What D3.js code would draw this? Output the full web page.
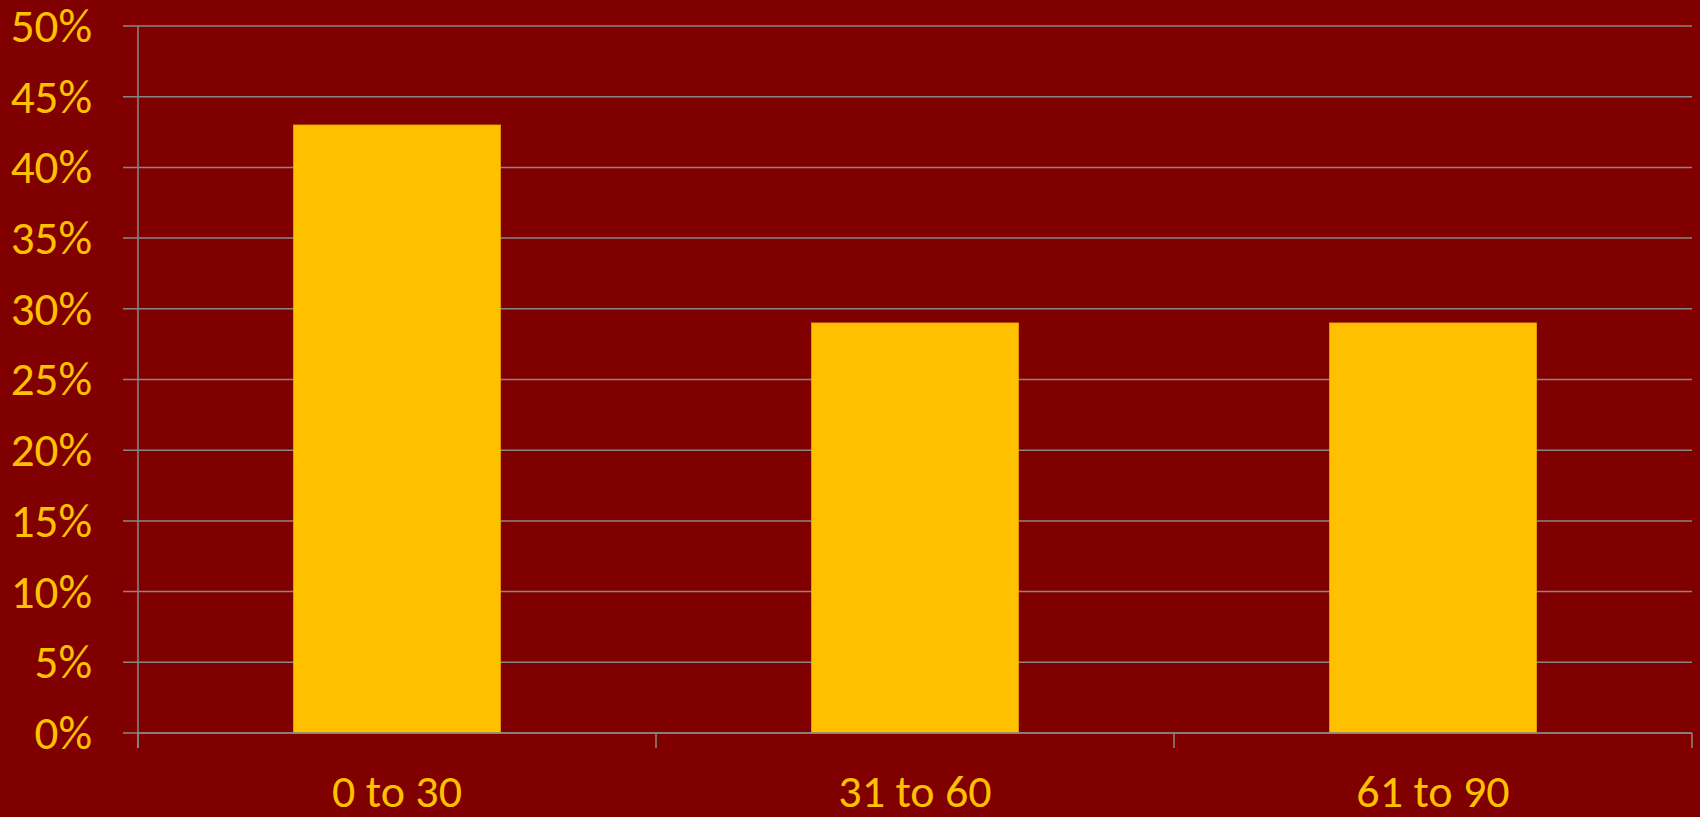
<!DOCTYPE html>
<html>
<head>
<meta charset="utf-8">
<script src="https://cdn.jsdelivr.net/npm/d3@7"></script>
<style>
  html, body { margin: 0; padding: 0; background: #800000; }
  svg { display: block; }
  text { font-family: Carlito, Lato, "Open Sans", sans-serif; fill: #FFC000; }
</style>
</head>
<body>
<svg id="chart" width="1700" height="817"></svg>
<script>
// Share of responses by age group
const categories = ["0 to 30", "31 to 60", "61 to 90"];
const values = [0.43, 0.29, 0.29];
const yTicks = [0, 0.05, 0.10, 0.15, 0.20, 0.25, 0.30, 0.35, 0.40, 0.45, 0.50];

const W = 1700, H = 817;
const margin = { left: 138, right: 8, top: 26, bottom: 84 };
const svg = d3.select("#chart");

const x = d3.scaleBand()
  .domain(categories)
  .range([margin.left, W - margin.right])
  .paddingInner(0.6)
  .paddingOuter(0.3);

const y = d3.scaleLinear()
  .domain([0, 0.5])
  .range([H - margin.bottom, margin.top]);

const gridColor = "#878787";

// horizontal gridlines with short ticks to the left of the axis
svg.append("g")
  .selectAll("line")
  .data(yTicks)
  .join("line")
  .attr("x1", margin.left - 15)
  .attr("x2", W - margin.right)
  .attr("y1", d => y(d))
  .attr("y2", d => y(d))
  .attr("stroke", gridColor)
  .attr("stroke-width", 1.5);

// y axis labels
svg.append("g")
  .selectAll("text")
  .data(yTicks)
  .join("text")
  .attr("x", 92)
  .attr("y", d => y(d))
  .attr("dy", "0.34em")
  .attr("text-anchor", "end")
  .attr("font-size", 47)
  .text(d => d3.format(".0%")(d));

// vertical axis line
svg.append("line")
  .attr("x1", margin.left).attr("x2", margin.left)
  .attr("y1", y(0.5)).attr("y2", y(0) + 15)
  .attr("stroke", gridColor).attr("stroke-width", 1.5);

// category boundary ticks on the x axis
const bounds = d3.range(categories.length + 1).map(i => margin.left + i * (W - margin.right - margin.left) / categories.length);
svg.append("g")
  .selectAll("line")
  .data(bounds)
  .join("line")
  .attr("x1", d => d).attr("x2", d => d)
  .attr("y1", y(0)).attr("y2", y(0) + 15)
  .attr("stroke", gridColor).attr("stroke-width", 1.5);

// bars
svg.append("g")
  .selectAll("rect")
  .data(values)
  .join("rect")
  .attr("x", (d, i) => x(categories[i]))
  .attr("width", x.bandwidth())
  .attr("y", d => y(d))
  .attr("height", d => y(0) - y(d))
  .attr("fill", "#FFC000")
  .attr("stroke", "#E8A200")
  .attr("stroke-width", 0.8);

// redraw baseline above bars
svg.append("line")
  .attr("x1", margin.left).attr("x2", W - margin.right)
  .attr("y1", y(0)).attr("y2", y(0))
  .attr("stroke", gridColor).attr("stroke-width", 1.5);

// category labels
svg.append("g")
  .selectAll("text")
  .data(categories)
  .join("text")
  .attr("x", d => x(d) + x.bandwidth() / 2)
  .attr("y", 807)
  .attr("text-anchor", "middle")
  .attr("font-size", 46)
  .text(d => d);
</script>
</body>
</html>
